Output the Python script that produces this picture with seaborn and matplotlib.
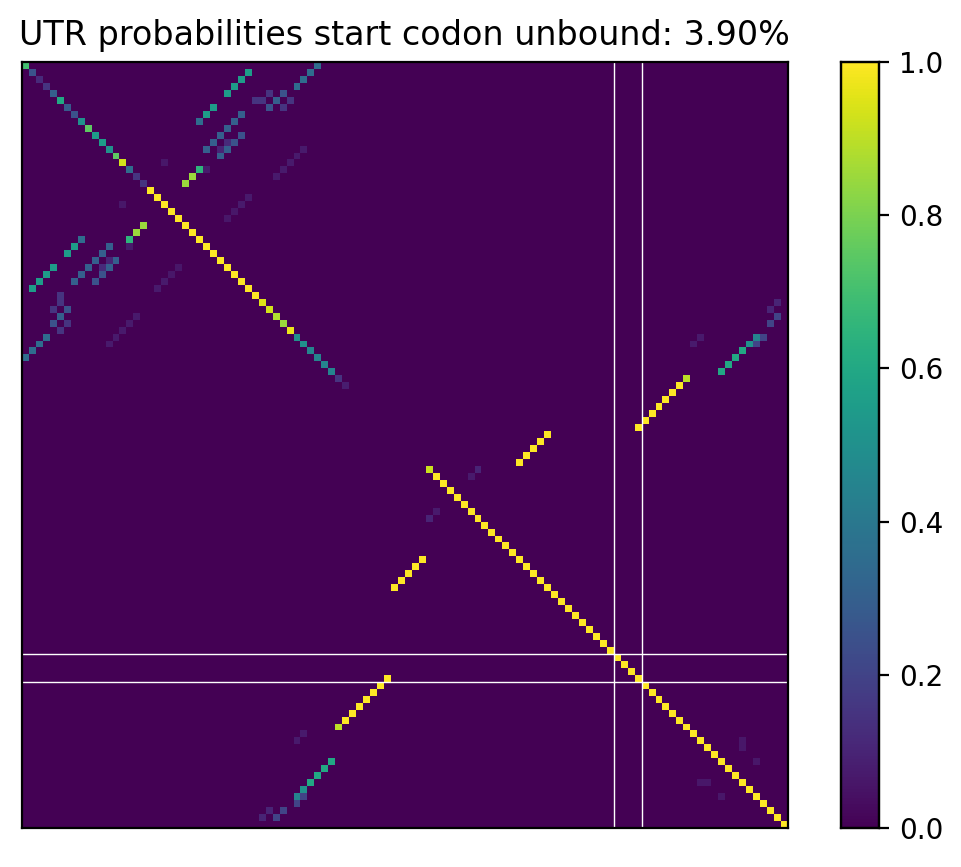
import numpy as np
import seaborn as sns
import matplotlib.pyplot as plt

# base pair probability matrix of the UTR (symmetric)
n = 110

diag_vals = ([0.70, 0.25, 0.12, 0.15, 0.30, 0.60, 0.28, 0.25, 0.50, 0.75,
              0.55, 0.55, 0.50, 0.75, 0.93, 0.35, 0.15, 0.15]
             + [1.0] * 16
             + [0.95, 0.93, 0.88, 0.85, 0.97, 0.50, 0.50, 0.45, 0.45, 0.45,
                0.45, 0.15, 0.08]
             + [0.0] * 11
             + [0.92] + [1.0] * 51)

# upper triangle pairs (i, j, p)
pairs = [
    (1, 32, 0.55), (2, 31, 0.55), (3, 30, 0.55), (4, 29, 0.55),
    (6, 27, 0.55), (7, 26, 0.55), (8, 25, 0.35),
    (0, 42, 0.35), (1, 41, 0.35), (2, 40, 0.35), (3, 39, 0.35),
    (4, 35, 0.15), (4, 37, 0.25), (5, 33, 0.15), (5, 34, 0.15),
    (5, 36, 0.30), (5, 38, 0.15), (6, 35, 0.25), (6, 37, 0.15),
    (7, 31, 0.30), (8, 30, 0.30), (9, 29, 0.30), (10, 28, 0.30),
    (10, 31, 0.25), (11, 27, 0.30), (11, 29, 0.12), (11, 30, 0.25),
    (12, 26, 0.30), (12, 28, 0.10), (12, 29, 0.30), (13, 28, 0.30),
    (12, 40, 0.07), (13, 39, 0.07), (14, 38, 0.07), (15, 37, 0.07),
    (16, 36, 0.07), (14, 20, 0.06), (15, 26, 0.07),
    (15, 25, 0.65), (16, 24, 0.85), (17, 23, 0.85),
    (19, 32, 0.07), (20, 31, 0.07), (21, 30, 0.06), (22, 29, 0.06),
    (53, 75, 1.0), (54, 74, 1.0), (55, 73, 1.0), (56, 72, 1.0), (57, 71, 1.0),
    (58, 65, 0.10), (59, 64, 0.07),
    (45, 95, 0.90), (46, 94, 1.0), (47, 93, 1.0), (48, 92, 1.0),
    (49, 91, 1.0), (50, 90, 1.0), (51, 89, 1.0), (52, 88, 1.0),
    (44, 100, 0.60), (43, 101, 0.60), (42, 102, 0.60), (41, 103, 0.60),
    (40, 104, 0.50), (39, 105, 0.45), (40, 105, 0.20), (39, 106, 0.20),
    (37, 107, 0.20), (36, 108, 0.20), (35, 107, 0.10), (34, 108, 0.10),
    (40, 96, 0.07), (39, 97, 0.07),
    (97, 103, 0.06), (98, 103, 0.06), (100, 105, 0.06),
]

mat = np.zeros((n, n))
mat[np.arange(n), np.arange(n)] = diag_vals
for i, j, p in pairs:
    mat[i, j] = p
    mat[j, i] = p

start_codon = (85, 89)

fig = plt.figure(figsize=(4.81, 4.335), dpi=200)
ax = fig.add_axes([0.0229, 0.045, 0.796, 0.8835])
cax = fig.add_axes([0.874, 0.045, 0.04, 0.8835])
sns.heatmap(mat, cmap='viridis', vmin=0, vmax=1, square=False, ax=ax,
            cbar_ax=cax, xticklabels=False, yticklabels=False)
for b in start_codon:
    ax.axvline(b, color='white', lw=0.5)
    ax.axhline(b, color='white', lw=0.5)
for s in ax.spines.values():
    s.set_visible(True)
    s.set_color('black')
    s.set_linewidth(0.8)
cax.set_yticks([0, 0.2, 0.4, 0.6, 0.8, 1.0])
cax.tick_params(labelsize=10)
for s in cax.spines.values():
    s.set_visible(True)
    s.set_linewidth(0.8)
ax.set_title('UTR probabilities start codon unbound: 3.90%', fontsize=12)
fig.savefig('out.png')
